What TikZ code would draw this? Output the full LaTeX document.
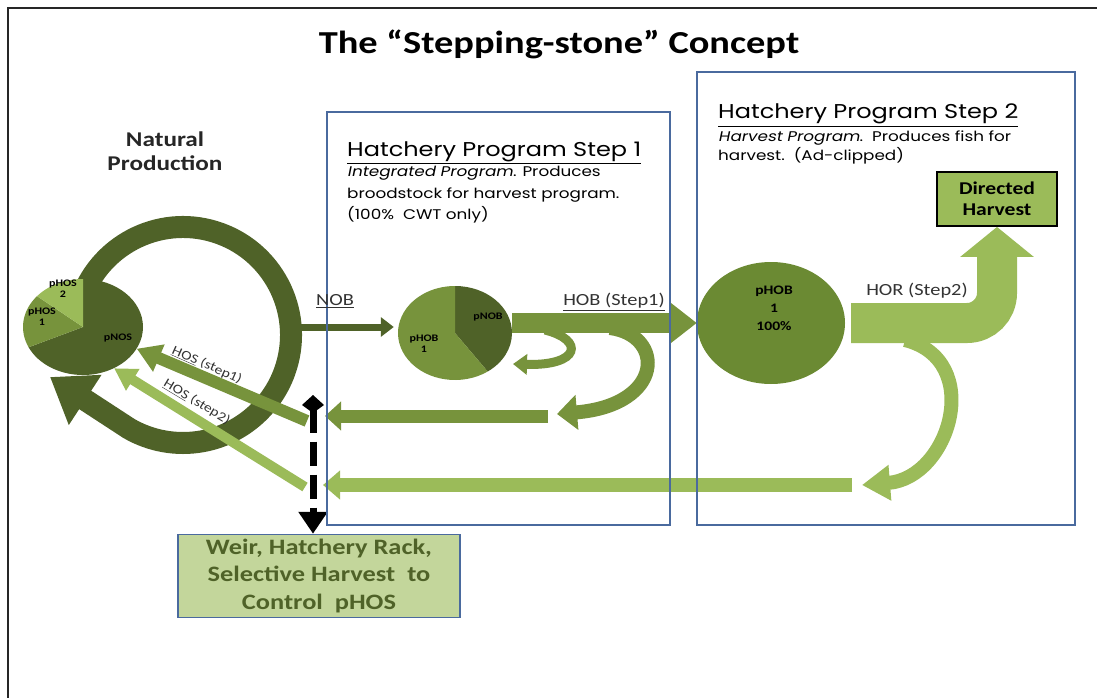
\documentclass[tikz,border=0pt]{standalone}
\usepackage{fontspec}
\setmainfont{Carlito}[FakeStretch=1.2]
\newfontfamily\gothic{Poppins}[FakeStretch=1.2]
\newfontfamily\gothicsl{Poppins}[FakeStretch=1.2,FakeSlant=0.2]
\usetikzlibrary{arrows.meta,shapes.geometric,positioning}
\definecolor{darkgreen}{HTML}{4F6228}
\definecolor{midgreen}{HTML}{77933C}
\definecolor{lightgreen}{HTML}{9BBB59}
\definecolor{hobgreen}{HTML}{6B8A33}
\definecolor{paleolive}{HTML}{C3D69B}
\definecolor{frameblue}{HTML}{4A6A9E}
\newcommand\fsz[2]{\fontsize{#1}{#2}\selectfont}

\begin{document}
\begin{tikzpicture}[x=1pt,y=-1pt,
  pie/.style={ellipse,inner sep=0pt,minimum width=#1},
  pielbl/.style={font=\bfseries\fsz{10}{11},align=center,inner sep=0pt},
  lbl/.style={font=\fsz{17}{20},text=black!80,inner sep=1pt},
  block/.style={line width=#1},
  stepbox/.style={draw=frameblue,line width=1.2pt},
  steptitle/.style={anchor=base west,font=\gothic\fsz{20}{24},inner sep=0pt},
  stepnote/.style={anchor=north west,align=left,inner sep=0pt}]
\useasboundingbox (0,0) rectangle (1097,698);

\draw[line width=2pt,black!85] (8,698) |- (1097,8);
\node[font=\bfseries\fsz{32}{38}] (title) at (559,44) {The “Stepping-stone” Concept};

\begin{scope}
\coordinate (ringc) at (183,335);
\coordinate (nob) at (301,327);
\coordinate (gate) at (313,395);

\node[pie=120pt,minimum height=96pt] (pie1) at (83,327) {};
\node[pie=114pt,minimum height=94pt] (pie2) at (455,333) {};
\node[pie=148pt,minimum height=122pt,fill=hobgreen] (phob) at (771,323) {};
\node[draw=black,line width=1.8pt,fill=lightgreen,minimum width=120pt,minimum height=54pt,
  inner sep=0pt,font=\bfseries\fsz{18}{21},align=center] (dh) at (997,199) {Directed\\Harvest};
\node[draw=frameblue,line width=1.5pt,fill=paleolive,minimum width=282pt,minimum height=83pt,
  inner sep=0pt,text=darkgreen,font=\bfseries\fsz{22}{27.5},align=center] (weir) at (319,576)
  {Weir, Hatchery Rack,\\Selective Harvest\ \ to\\Control\ \ pHOS};

\draw[darkgreen,block=22pt,-{Triangle[length=42pt,width=57pt]}] (ringc) ++(-160:108)
  arc[start angle=-160,end angle=120,radius=108] -- (50,377);

\foreach \a/\b/\c in {-90/155/darkgreen,155/220/midgreen,220/270/lightgreen}{%
\fill[\c] (pie1.center) -- ++(\a:60 and 48) arc[start angle=\a,end angle=\b,x radius=60,y radius=48] -- cycle;
}
\foreach \a/\b/\c in {-90/55/darkgreen,55/270/midgreen}{%
\fill[\c] (pie2.center) -- ++(\a:57 and 47) arc[start angle=\a,end angle=\b,x radius=57,y radius=47] -- cycle;
}
\foreach \x/\y/\t [count=\i] in {63/289/pHOS\\2,42/317/pHOS\\1,118/338/pNOS,488/317/pNOB,424/344/pHOB\\1}{%
\node[pielbl] (plbl\i) at (\x,\y) {\t};
}
\node[pielbl,font=\bfseries\fsz{13}{18}] (phobtxt) at (774,308) {pHOB\\1\\100\%};

\draw[darkgreen,block=7pt,-{Triangle[length=13pt,width=19pt]}] (nob) -- ([xshift=-4pt]pie2.west |- nob);
\draw[midgreen,block=9pt,-{Triangle[length=14pt,width=20pt]}] (545,330) .. controls (585,340) and (580,366) .. (513,364);
\draw[midgreen,block=14pt,-{Triangle[length=20pt,width=34pt]}] (610,328) .. controls (665,335) and (665,405) .. (557,414);
\draw[midgreen,block=20pt,-{Triangle[length=27pt,width=40pt]}] (pie2.east |- phob.west) -- (phob.west);
\draw[lightgreen,block=14pt,-{Triangle[length=28pt,width=34pt]}] (905,340) .. controls (985,360) and (950,478) .. (862,485);
\draw[lightgreen,block=40pt,rounded corners=30pt,-{Triangle[length=30pt,width=72pt]}] ([xshift=6pt]phob.east) -| (dh.south);

\draw[midgreen,block=13pt,-{Triangle[length=16pt,width=28pt]}] (548,416) -- (325,416);
\draw[midgreen,block=12pt,-{Triangle[length=24pt,width=28pt]}] (307,421) -- (pie1.-22);
\draw[lightgreen,block=14pt,-{Triangle[length=17pt,width=28pt]}] (852,485) -- (323,485);
\draw[lightgreen,block=10pt,-{Triangle[length=22pt,width=24pt]}] (305,487) -- (pie1.-53);

\draw[black,block=7pt,dash pattern=on 24pt off 9pt,
  {Kite[length=18pt,width=22pt,inset=8pt]}-{Triangle[length=22pt,width=28pt]}] (gate) -- (gate |- weir.north);
\end{scope}

\draw[stepbox] (327,112) rectangle (670,525);
\draw[stepbox] (697,72) rectangle (1075,525);

\node[steptitle] (step1) at (347,156) {\underline{Hatchery Program Step 1}};
\node[stepnote,font=\gothic\fsz{14}{21.5}] (note1) at (347,166)
  {{\gothicsl Integrated Program}. Produces\\broodstock for harvest program.\\(100\%\ \ CWT only)};
\node[steptitle] (step2) at (718,119) {\underline{Hatchery Program Step 2}};
\node[stepnote,font=\gothic\fsz{14}{19}] (note2) at (718,131)
  {{\gothicsl Harvest Program}.\ \ Produces fish for\\harvest.\ \ (Ad-clipped)};

\node[font=\bfseries\fsz{21}{24},align=center,text=black!85] (natprod) at (165,151) {Natural\\Production};
\node[lbl] (noblbl) at (335,301) {\underline{NOB}};
\node[lbl] (hoblbl) at (614,302) {\underline{HOB (Step1)}};
\node[lbl] (horlbl) at (917,291) {HOR (Step2)};
\node[lbl,font=\fsz{13}{16},rotate=-24] (hos1lbl) at (207,365) {\underline{HOS} (step1)};
\node[lbl,font=\fsz{13}{16},rotate=-31] (hos2lbl) at (197,402) {\underline{HOS} (step2)};

\end{tikzpicture}
\end{document}
